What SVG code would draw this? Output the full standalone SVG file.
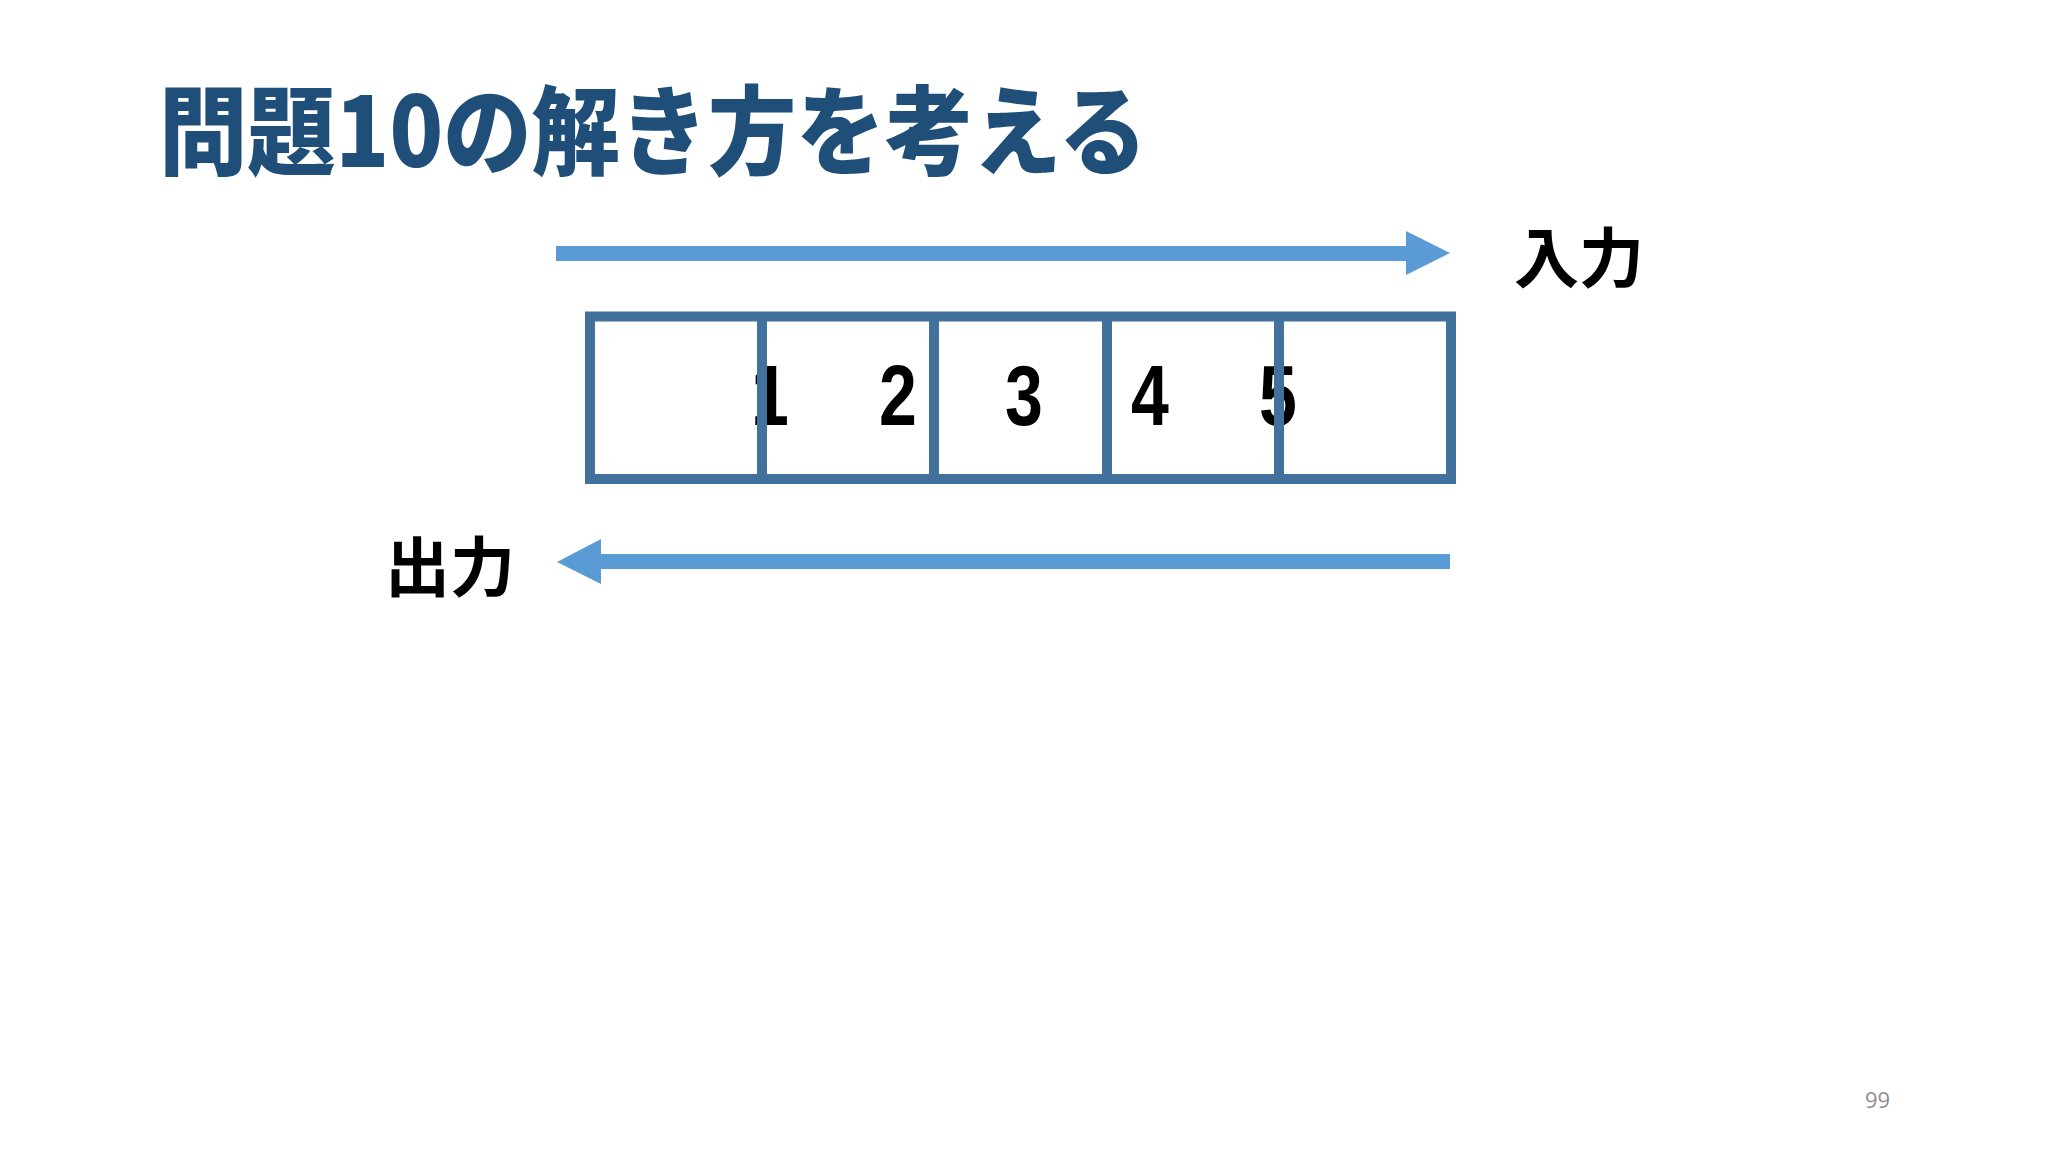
<svg xmlns="http://www.w3.org/2000/svg" width="2048" height="1152" viewBox="0 0 2048 1152">
  <style>
    .title { font-family: "Noto Sans CJK JP", "Noto Sans", sans-serif; font-weight: 900; font-size: 97px; fill: #1F4E79; }
    .label { font-family: "Noto Sans CJK JP", "Noto Sans", sans-serif; font-weight: 700; font-size: 65px; fill: #000000; }
    .digit { font-family: "Liberation Sans", Arial, sans-serif; font-weight: 700; font-size: 85px; fill: #000000; text-anchor: middle; }
    .cell { fill: none; stroke: #41719C; stroke-width: 10; }
    .arrow { fill: #5B9BD5; }
    .page { font-family: "Open Sans", "Liberation Sans", sans-serif; font-size: 22px; fill: #8C8C8C; }
  </style>
  <rect x="0" y="0" width="2048" height="1152" fill="#FFFFFF"/>

  <g id="title">
    <text class="title" x="159" y="167" textLength="988" lengthAdjust="spacingAndGlyphs">問題10の解き方を考える</text>
  </g>

  <g id="connectors">
    <polygon class="arrow" points="556,246 1406,246 1406,231 1450,253 1406,275 1406,261 556,261"/>
    <polygon class="arrow" points="1450,554 601,554 601,539 557,562 601,584 601,569 1450,569"/>
  </g>

  <g id="label-input">
    <text class="label" x="1514" y="282">入力</text>
  </g>
  <g id="label-output">
    <text class="label" x="385" y="591">出力</text>
  </g>

  <g id="array">
    <g id="digits">
      <text class="digit" transform="translate(770,425) scale(0.8,1)">1</text>
      <text class="digit" transform="translate(898,425) scale(0.8,1)">2</text>
      <text class="digit" transform="translate(1024,425) scale(0.8,1)">3</text>
      <text class="digit" transform="translate(1150,425) scale(0.8,1)">4</text>
      <text class="digit" transform="translate(1278,425) scale(0.8,1)">5</text>
    </g>
    <rect class="cell" x="590" y="316.5" width="861" height="162.5"/>
    <line class="cell" x1="762" y1="316.5" x2="762" y2="479"/>
    <line class="cell" x1="934" y1="316.5" x2="934" y2="479"/>
    <line class="cell" x1="1107" y1="316.5" x2="1107" y2="479"/>
    <line class="cell" x1="1279" y1="316.5" x2="1279" y2="479"/>
  </g>

  <g id="page-number">
    <text class="page" x="1865" y="1108">99</text>
  </g>
</svg>
